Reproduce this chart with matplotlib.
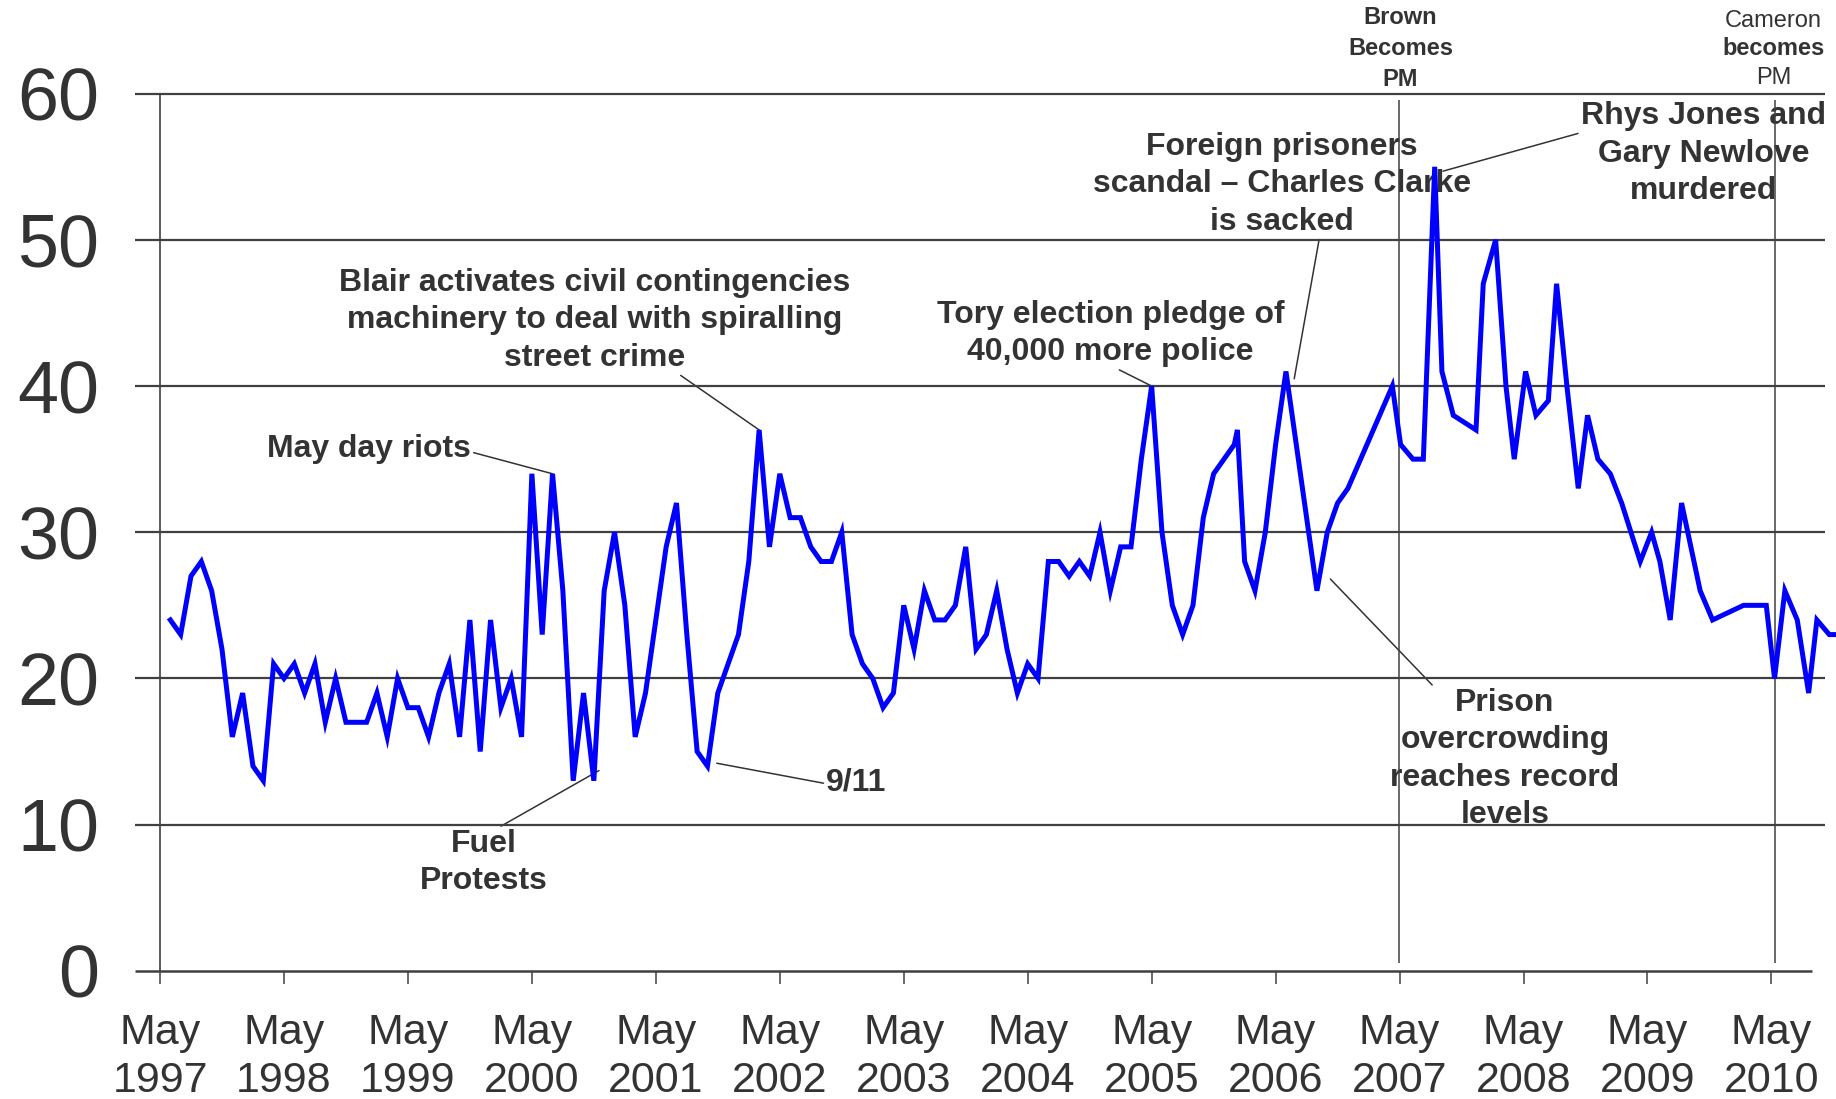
import matplotlib
matplotlib.use('Agg')
import matplotlib.pyplot as plt

plt.rcParams['font.family'] = ['Liberation Sans', 'DejaVu Sans']

# months since May 1997 and values
months = [1, 2, 3, 4, 5, 6, 7, 8, 9, 10, 11, 12, 13, 14, 15, 16, 17, 18, 19, 20,
          21, 22, 23, 24, 25, 26, 27, 28, 29, 30, 31, 32, 33, 34, 35, 36, 37, 38, 39, 40,
          41, 42, 43, 44, 45, 46, 47, 48, 49, 50, 51, 52, 53, 54, 55, 56, 57, 58, 59, 60,
          61, 62, 63, 64, 65, 66, 67, 68, 69, 70, 71, 72, 73, 74, 75, 76, 77, 78, 79, 80,
          81, 82, 83, 84, 85, 86, 87, 88, 89, 90, 91, 92, 93, 94, 95, 96, 97, 98, 99, 100,
          101, 102, 103, 104, 104.3, 105, 106, 107, 108, 109, 110, 111, 112, 113, 114, 115,
          119.3, 120.1, 121.3, 122.3, 123.4, 124.1, 125.2, 127.4, 128.1, 129.3, 130.3,
          131.1, 132.2, 133.2, 134.4, 135.2, 136.2, 137.3, 138.2, 139.2, 140.4, 141.5,
          143.3, 144.4, 145.2, 146.2, 147.3, 149.1, 150.3, 153.3, 155.5, 156.3, 157.3,
          158.5, 159.6, 160.4, 161.6, 162.4, 163.5]
values = [24, 23, 27, 28, 26, 22, 16, 19, 14, 13, 21, 20, 21, 19, 21, 17, 20, 17, 17, 17,
          19, 16, 20, 18, 18, 16, 19, 21, 16, 24, 15, 24, 18, 20, 16, 34, 23, 34, 26, 13,
          19, 13, 26, 30, 25, 16, 19, 24, 29, 32, 23, 15, 14, 19, 21, 23, 28, 37, 29, 34,
          31, 31, 29, 28, 28, 30, 23, 21, 20, 18, 19, 25, 22, 26, 24, 24, 25, 29, 22, 23,
          26, 22, 19, 21, 20, 28, 28, 27, 28, 27, 30, 26, 29, 29, 35, 40, 30, 25, 23, 25,
          31, 34, 35, 36, 37, 28, 26, 30, 36, 41, 36, 31, 26, 30, 32, 33,
          40, 36, 35, 35, 55, 41, 38, 37, 47, 50, 40,
          35, 41, 38, 39, 47, 40, 33, 38, 35, 34, 32,
          28, 30, 28, 24, 32, 26, 24, 25, 25, 20, 26,
          24, 19, 24, 23, 23, 23]

tick_months = [0, 12, 24, 36, 48, 60, 72, 84, 96, 108, 120, 132, 144, 156]
tick_labels = ['May\n%d' % y for y in range(1997, 2011)]
y_ticks = [0, 10, 20, 30, 40, 50, 60]

brown_month = 119.9
cameron_month = 156.3

txt = '#333333'
grid_c = '#404040'

fig = plt.figure(figsize=(18.36, 10.99), dpi=100)
ax = fig.add_axes([160 / 1836, 128.2 / 1099, 1676 / 1836, 877.1 / 1099])
ax.set_xlim(0, 162.25)
ax.set_ylim(0, 60)

for s in ['top', 'right', 'bottom']:
    ax.spines[s].set_visible(False)
ax.spines['left'].set_color(grid_c)
ax.spines['left'].set_linewidth(1.2)

# horizontal grid lines (extend left past the axis like the original)
ax.hlines(y_ticks[1:], -2.45, 161.2, color=grid_c, lw=1.6, clip_on=False, zorder=2)
ax.hlines(0, -2.45, 159.9, color=grid_c, lw=1.8, clip_on=False, zorder=2)

# PM change markers
ax.vlines([brown_month, cameron_month], 0.5, 59.6, color=grid_c, lw=1.1, zorder=2)

ax.plot(months, values, color='#0000FF', lw=3.6, zorder=3, solid_joinstyle='miter')

ax.set_xticks(tick_months)
ax.set_xticklabels(tick_labels, linespacing=1.25)
ax.set_yticks(y_ticks)
ax.tick_params(axis='x', direction='out', length=9.5, width=1.1, color=grid_c,
               pad=21, labelsize=31, labelcolor=txt)
ax.tick_params(axis='y', length=0, pad=44, labelsize=53, labelcolor=txt)

ann = dict(fontsize=23, fontweight='bold', color=txt, zorder=1, linespacing=1.32)
line = dict(arrowstyle='-', color=txt, lw=1.1, shrinkA=0, shrinkB=0)

ax.annotate('May day riots', xy=(38, 34), xytext=(30.1, 35.7), ha='right', va='center',
            arrowprops=dict(line, relpos=(1.0, 0.4)), **ann)
ax.annotate('Blair activates civil contingencies\nmachinery to deal with spiralling\nstreet crime',
            xy=(58, 37), xytext=(42.1, 44.5), ha='center', va='center',
            arrowprops=dict(line, relpos=(0.66, 0.0)), **ann)
ax.annotate('Fuel\nProtests', xy=(42.5, 13.7), xytext=(31.3, 7.4), ha='center', va='center',
            arrowprops=dict(line, relpos=(0.6, 1.0)), **ann)
ax.annotate('9/11', xy=(53.9, 14.2), xytext=(64.5, 12.9), ha='left', va='center',
            arrowprops=dict(line, relpos=(0.0, 0.45)), **ann)
ax.annotate('Tory election pledge of\n40,000 more police', xy=(96, 40), xytext=(92.0, 43.6),
            ha='center', va='center', arrowprops=dict(line, relpos=(0.51, 0.0)), **ann)
ax.annotate('Foreign prisoners\nscandal \u2013 Charles Clarke\nis sacked', xy=(109.8, 40.5),
            xytext=(108.6, 53.8), ha='center', va='center',
            arrowprops=dict(line, relpos=(0.6, 0.0)), **ann)
ax.annotate('Prison\novercrowding\nreaches record\nlevels', xy=(113.3, 26.8),
            xytext=(130.2, 14.5), ha='center', va='center',
            arrowprops=dict(line, relpos=(0.23, 0.94)), **ann)
ax.annotate('Rhys Jones and\nGary Newlove\nmurdered', xy=(124.2, 54.7), xytext=(149.4, 55.9),
            ha='center', va='center', arrowprops=dict(line, relpos=(0.0, 0.7)), **ann)

# PM labels above the plot
ax.text(120.1, 63.1, 'Brown\nBecomes\nPM', ha='center', va='center', fontsize=17,
        fontweight='bold', color=txt, linespacing=1.45, clip_on=False)
ax.text(156.2, 65.0, 'Cameron', ha='center', va='center', fontsize=17, color=txt, clip_on=False)
ax.text(156.2, 63.1, 'becomes', ha='center', va='center', fontsize=17, fontweight='bold',
        color=txt, clip_on=False)
ax.text(156.2, 61.1, 'PM', ha='center', va='center', fontsize=17, color=txt, clip_on=False)

fig.savefig('out.png', dpi=100)
